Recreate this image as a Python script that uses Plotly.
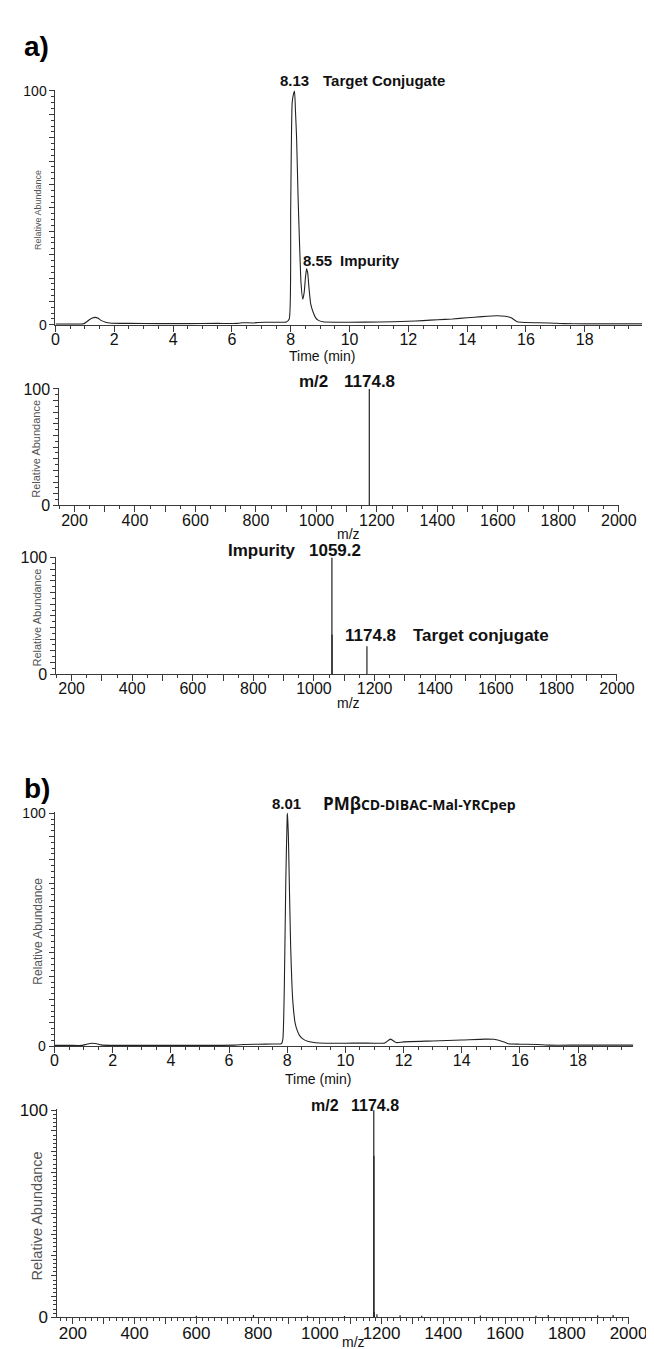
import plotly.graph_objects as go

# ---------------- data ----------------
# Panel a) chromatogram (time in min, relative abundance %)
time_a = [0.0, 0.5, 0.95, 1.05, 1.15, 1.25, 1.35, 1.45, 1.55, 1.7, 1.9, 2.5, 3.5, 4.5, 5.5, 6.2,
          6.35, 6.5, 6.7, 6.9, 7.1, 7.5, 7.85, 7.95, 8.0, 8.05, 8.1, 8.13, 8.16, 8.2, 8.25, 8.3,
          8.35, 8.41, 8.46, 8.5, 8.54, 8.58, 8.62, 8.68, 8.76, 8.85, 8.93, 9.1, 9.5, 10.0, 11.0,
          12.0, 12.5, 13.0, 13.5, 14.0, 14.5, 15.0, 15.3, 15.5, 15.7, 16.0, 16.8, 17.3, 18.0,
          18.5, 19.0, 19.5, 19.95]
int_a = [0.3, 0.3, 0.4, 1.2, 2.2, 2.9, 3.2, 2.8, 1.9, 1.1, 0.7, 0.6, 0.5, 0.5, 0.6, 0.6,
         0.9, 0.9, 0.8, 1.0, 1.1, 1.1, 1.2, 2.5, 50, 95, 99, 100, 92, 80, 55, 35,
         18, 11, 14, 20, 24, 22, 16, 9, 5.5, 3.0, 2.0, 1.3, 1.1, 1.1, 1.2,
         1.5, 1.8, 2.2, 2.5, 3.0, 3.5, 3.9, 3.7, 3.0, 1.3, 1.0, 0.8, 0.5, 0.4,
         0.4, 0.4, 0.4, 0.4]

# Panel a) MS of target conjugate (m/2)
ms1_mz = [1174.8]
ms1_int = [100]

# Panel a) MS of impurity
ms2_mz = [1059.2, 1059.7, 1174.8]
ms2_int = [100, 34, 24]

# Panel b) chromatogram
time_b = [0.0, 0.5, 0.95, 1.1, 1.3, 1.45, 1.6, 1.9, 3.0, 4.5, 6.2, 6.5, 7.0, 7.5, 7.8, 7.85,
          7.9, 7.95, 8.0, 8.01, 8.04, 8.08, 8.12, 8.16, 8.2, 8.27, 8.35, 8.42, 8.55, 8.7, 9.1,
          10.0, 10.5, 11.0, 11.35, 11.55, 11.75, 12.0, 13.0, 14.0, 14.8, 15.1, 15.4, 15.6,
          16.0, 16.6, 17.0, 18.0, 19.0, 19.9]
int_b = [0.3, 0.3, 0.3, 0.8, 1.2, 1.0, 0.5, 0.3, 0.3, 0.3, 0.4, 0.7, 0.8, 0.9, 1.0, 3,
         25, 70, 99, 100, 90, 65, 42, 27, 18, 10, 6.5, 4.6, 3.0, 2.1, 1.3,
         1.2, 1.3, 1.2, 1.3, 3.0, 1.5, 1.8, 2.2, 2.6, 3.0, 2.9, 2.0, 1.0,
         0.8, 0.7, 0.4, 0.4, 0.4, 0.4]

# Panel b) MS (m/2)
ms3_mz = [600.0, 785.0, 960.0, 1080.0, 1174.8, 1175.3, 1176.3, 1185.0, 1260.0, 1330.0,
          1520.0, 1700.0, 1740.0, 1900.0, 1950.0]
ms3_int = [0.8, 1.2, 0.8, 0.7, 100, 78, 2.5, 1.5, 1.0, 0.8, 0.9, 0.8, 1.1, 1.0, 1.2]

chrom_ticks = [0, 2, 4, 6, 8, 10, 12, 14, 16, 18]
ms_ticks = [200, 400, 600, 800, 1000, 1200, 1400, 1600, 1800, 2000]

# ---------------- layout helpers ----------------
W, H = 654, 1349
FONT = "Liberation Sans, Arial, sans-serif"
AX = "#3a3a3a"
LINE = "#222222"


def fx(px):
    return px / W


def fy(py):
    return 1 - py / H


def sticks(mz, it):
    xs, ys = [], []
    for m, v in zip(mz, it):
        xs += [m, m, None]
        ys += [0, v, None]
    return xs, ys


# panels: (x_left_px, x_right_px, y_100_px, y_0_px, xrange, kind)
panels = [
    (45, 652, 76, 313, [0, 19.95], "lc"),
    (49, 628, 378, 496, [150, 2000], "ms"),
    (46, 626, 549, 667, [150, 2000], "ms"),
    (44, 643, 808, 1044, [0, 19.9], "lc"),
    (47, 638, 1109, 1319, [150, 2000], "ms"),
]
ytick_size = [14, 16, 16, 14, 17]
xtick_size = [16, 16, 16, 16, 17]
ytitle_size = [9, 11, 11, 12, 14.5]
ymin_dt = [2.5, 5, 5, 2.5, 2]
xmin_dt = [0.5, 50, 50, 0.5, 20]

YTOP = 100.6
fig = go.Figure()

series = [
    (time_a, int_a, "lc"),
    sticks(ms1_mz, ms1_int) + ("ms",),
    sticks(ms2_mz, ms2_int) + ("ms",),
    (time_b, int_b, "lc"),
    sticks(ms3_mz, ms3_int) + ("ms",),
]

layout = dict(width=W, height=H, margin=dict(l=0, r=0, t=0, b=0), autosize=False,
              paper_bgcolor="white", plot_bgcolor="white", showlegend=False,
              font=dict(family=FONT, color="#222"))

for i, (pl, pr, p100, p0, xr, kind) in enumerate(panels):
    n = "" if i == 0 else str(i + 1)
    xs, ys, k = series[i]
    fig.add_trace(go.Scatter(
        x=xs, y=ys, mode="lines", xaxis="x" + n, yaxis="y" + n,
        line=dict(color=LINE, width=1.1 if kind == "lc" else 1.2,
                  shape="spline" if kind == "lc" else "linear", smoothing=0.5 if kind == "lc" else None),
        hoverinfo="skip", connectgaps=False))
    ytop_px = p0 - (p0 - p100) * YTOP / 100.0
    if kind == "lc":
        tv = chrom_ticks
        tt = [str(v) for v in chrom_ticks]
    else:
        tv = list(range(200, 2001, 100))
        tt = [str(v) if v in ms_ticks else "" for v in tv]
    layout["xaxis" + n] = dict(
        domain=[fx(pl), fx(pr)], range=xr, anchor="y" + n,
        showline=True, linecolor=AX, linewidth=1, showgrid=False, zeroline=False,
        ticks="outside", ticklen=6, tickwidth=1, tickcolor=AX,
        tickvals=tv, ticktext=tt, tickangle=0,
        tickfont=dict(size=xtick_size[i], family=FONT, color="#111"),
        ticklabelstandoff=-6,
        minor=dict(ticks="outside", ticklen=3, tickwidth=1, tickcolor=AX, dtick=xmin_dt[i],
                   tick0=0, showgrid=False),
    )
    yv = list(range(0, 101, 10))
    yt = ["0"] + [""] * 9 + ["100"]
    layout["yaxis" + n] = dict(
        domain=[fy(p0), fy(ytop_px)], range=[0, YTOP], anchor="x" + n,
        showline=True, linecolor=AX, linewidth=1, showgrid=False, zeroline=False,
        ticks="outside", ticklen=5, tickwidth=1, tickcolor=AX,
        tickvals=yv, ticktext=yt,
        tickfont=dict(size=ytick_size[i], family=FONT, color="#111"),
        minor=dict(ticks="outside", ticklen=3, tickwidth=1, tickcolor=AX, dtick=ymin_dt[i],
                   tick0=0, showgrid=False),
    )

fig.update_layout(**layout)

ann = []


def add(text, xpx, ypx, size, bold=False, xanchor="center", color="#111", angle=0, family=FONT):
    t = "<b>%s</b>" % text if bold else text
    ann.append(dict(text=t, x=fx(xpx), y=fy(ypx), xref="paper", yref="paper",
                    xanchor=xanchor, yanchor="middle", showarrow=False, textangle=angle,
                    font=dict(size=size, family=family, color=color)))


# panel letters
add("a)", 10, 31, 28, bold=True, xanchor="left", color="#000")
add("b)", 10, 783, 28, bold=True, xanchor="left", color="#000")

# y titles
for i, (pl, pr, p100, p0, xr, kind) in enumerate(panels):
    add("Relative Abundance", 27 if kind == "lc" else 25.5, (p100 + p0) / 2.0 + 2, ytitle_size[i],
        color="#555", angle=-90)

# x titles
add("Time (min)", 321, 345, 14)
add("Time (min)", 317, 1077, 14)
add("m/z", 348, 525, 14)
add("m/z", 348, 696, 14)
add("m/z", 353, 1344, 14)

# peak labels
add("8.13", 292.6, 65, 15, bold=True)
add("Target Conjugate", 320, 65, 15, bold=True, xanchor="left")
add("8.55", 299, 248, 15, bold=True, xanchor="left")
add("Impurity", 337, 248, 15, bold=True, xanchor="left")

add("m/2", 312, 370, 17, bold=True)
add("1174.8", 370, 370, 17, bold=True)

add("Impurity", 259, 542, 17, bold=True)
add("1059.2", 334, 542, 17, bold=True)
add("1174.8", 371, 628, 17, bold=True)
add("Target conjugate", 413, 628, 17, bold=True, xanchor="left")

add("8.01", 284.5, 798, 15, bold=True)
ann.append(dict(text="<b><span style='font-size:17px'>PMβ</span>CD-DIBAC-Mal-YRCpep</b>",
                x=fx(320), y=fy(798), xref="paper", yref="paper", xanchor="left",
                yanchor="middle", showarrow=False,
                font=dict(size=14, family="Open Sans, Liberation Sans, sans-serif", color="#111")))

add("m/2", 323.5, 1104, 16, bold=True)
add("1174.8", 375.7, 1104, 16, bold=True)

fig.update_layout(annotations=ann)
fig.write_html("out.html")
